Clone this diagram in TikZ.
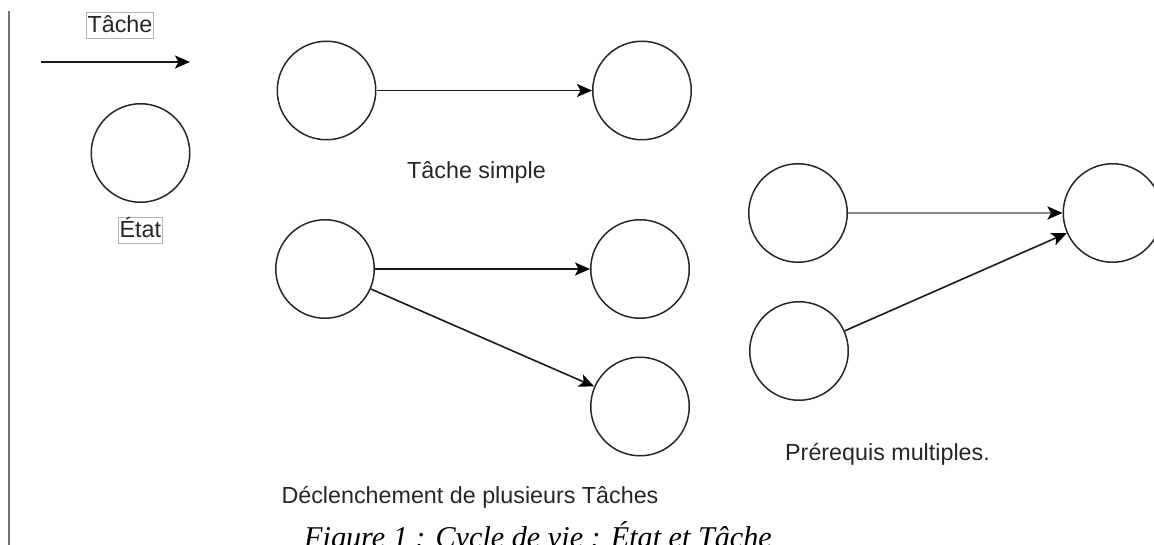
\documentclass[tikz,border=0pt]{standalone}
\usepackage{fontspec}
\setmainfont{Liberation Sans}
\newfontfamily\capfont{Liberation Serif}
\usetikzlibrary{arrows.meta}
\begin{document}
\begin{tikzpicture}[x=1pt,y=-1pt,
  state/.style={circle,draw=black!85,line width=1.5pt,minimum size=98.5pt,inner sep=0pt},
  conn/.style={-{Stealth[length=15pt,width=13pt,inset=3.5pt,color=black]},line width=1.6pt,draw=black!90},
  greyconn/.style={conn,line width=2.6pt,draw=black!45},
  lbl/.style={font=\fontsize{23.3}{28}\selectfont,text=black!85,inner sep=0pt,anchor=base},
  boxed/.style={lbl,draw=black!30,line width=0.7pt,inner xsep=1pt,text height=20pt,text depth=6pt},
  captxt/.style={font=\capfont\itshape\fontsize{30.2}{36}\selectfont,text=black,inner sep=0pt,anchor=base}]
\useasboundingbox (0,0) rectangle (1154,545);
% left rule
\coordinate (v0) at (9,11);
\coordinate (v1) at (9,545);
\draw[draw=black!55,line width=1.6pt] (v0) -- (v1);
% legend
\coordinate (ta) at (41,62);
\coordinate (tb) at (190,62);
\draw[conn] (ta) -- (tb);
\node[boxed] (tl) at (120,32.7) {Tâche};
\node[state] (e) at (140.5,153) {};
\node[boxed] (el) at (140.3,237.3) {État};
% simple
\node[state] (s1) at (326.5,90.5) {};
\node[state] (s2) at (642,90.5) {};
\draw[conn] (s1) -- (s2);
\node[lbl] (sl) at (476.5,178.3) {Tâche simple};
% déclenchement
\node[state] (d0) at (325,269) {};
\node[state] (d1) at (640,269) {};
\node[state] (d2) at (640,406.5) {};
\draw[conn] (d0) -- (d1);
\draw[conn] (d0) -- (d2);
\node[lbl] (dl) at (470,503.3) {Déclenchement de plusieurs Tâches};
% prérequis
\node[state] (p1) at (798,213) {};
\node[state] (p2) at (799,351) {};
\node[state] (p3) at (1112.5,213) {};
\draw[greyconn] (p1) -- (p3);
\draw[conn] (p2) -- (p3);
\node[lbl] (pl) at (887.5,460) {Prérequis multiples.};
% caption
\node[captxt] (cap) at (538,547) {Figure 1 : Cycle de vie : État et Tâche};
\end{tikzpicture}
\end{document}
